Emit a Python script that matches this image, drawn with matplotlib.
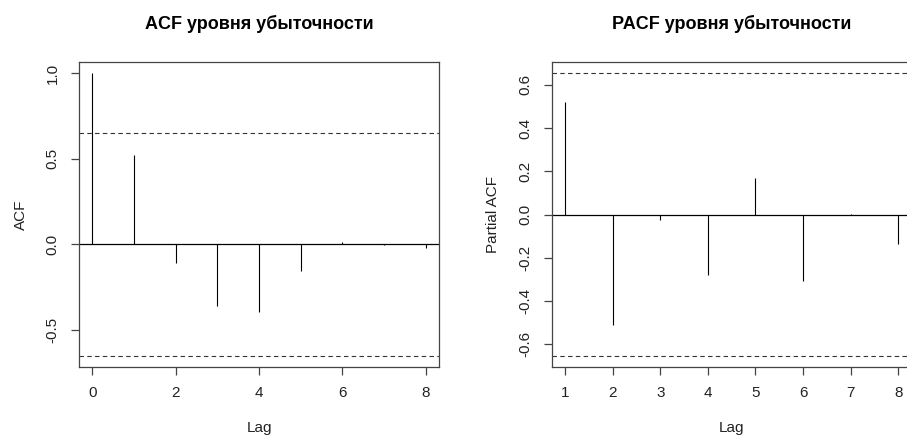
import matplotlib
matplotlib.use("Agg")
import matplotlib.pyplot as plt

plt.rcParams['font.family'] = ['Liberation Sans', 'DejaVu Sans']

# ACF (lag 0..8) and PACF (lag 1..8), n = 9 observations
acf_lags = [0, 1, 2, 3, 4, 5, 6, 7, 8]
acf_vals = [1.0, 0.523, -0.108, -0.362, -0.396, -0.157, 0.01, -0.005, -0.02]
pacf_lags = [1, 2, 3, 4, 5, 6, 7, 8]
pacf_vals = [0.521, -0.512, -0.025, -0.278, 0.168, -0.308, 0.002, -0.138]
n_obs = 9
ci = 1.96 / n_obs ** 0.5

acf_ticks = [-0.5, 0.0, 0.5, 1.0]
pacf_ticks = [-0.6, -0.4, -0.2, 0.0, 0.2, 0.4, 0.6]

fig = plt.figure(figsize=(9.07, 4.38), dpi=100)
W, H = 907, 438


def box(x0, y0, x1, y1):
    return [x0 / W, 1 - y1 / H, (x1 - x0) / W, (y1 - y0) / H]


def style(ax, title, ylabel, lags, yticks):
    frame = '#444444'
    for s in ax.spines.values():
        s.set_color(frame)
        s.set_linewidth(0.9)
    ax.axhline(0, color='black', lw=0.9)
    ax.axhline(ci, color='#333333', lw=0.8, ls=(0, (4, 3)))
    ax.axhline(-ci, color='#333333', lw=0.8, ls=(0, (4, 3)))
    lo, hi = min(lags), max(lags)
    pad = 0.04 * (hi - lo)
    ax.set_xlim(lo - pad, hi + pad)
    ax.set_yticks(yticks)
    ax.set_yticklabels(['%.1f' % t for t in yticks], rotation=90, va='center')
    ax.tick_params(axis='both', length=6, width=0.9, color=frame,
                   labelsize=11, pad=8, labelcolor='#222222')
    ax.set_title(title, fontsize=13, fontweight='bold', pad=24)
    ax.set_xlabel('Lag', fontsize=11, labelpad=15, color='#222222')
    ax.set_ylabel(ylabel, fontsize=11, labelpad=13, color='#222222')


ax1 = fig.add_axes(box(79, 62, 439, 367))
ax1.vlines(acf_lags, 0, acf_vals, color='black', lw=0.8)
rng = max(acf_vals) - (-ci)
ax1.set_ylim(-ci - 0.04 * rng, max(acf_vals) + 0.04 * rng)
ax1.set_xticks([0, 2, 4, 6, 8])
style(ax1, 'ACF уровня убыточности', 'ACF', acf_lags, acf_ticks)

ax2 = fig.add_axes(box(551.7, 62, 911.6, 367))
ax2.vlines(pacf_lags, 0, pacf_vals, color='black', lw=0.8)
ax2.set_ylim(-ci - 0.04 * 2 * ci, ci + 0.04 * 2 * ci)
ax2.set_xticks(pacf_lags)
style(ax2, 'PACF уровня убыточности', 'Partial ACF', pacf_lags, pacf_ticks)

fig.savefig('out.png', dpi=100)
